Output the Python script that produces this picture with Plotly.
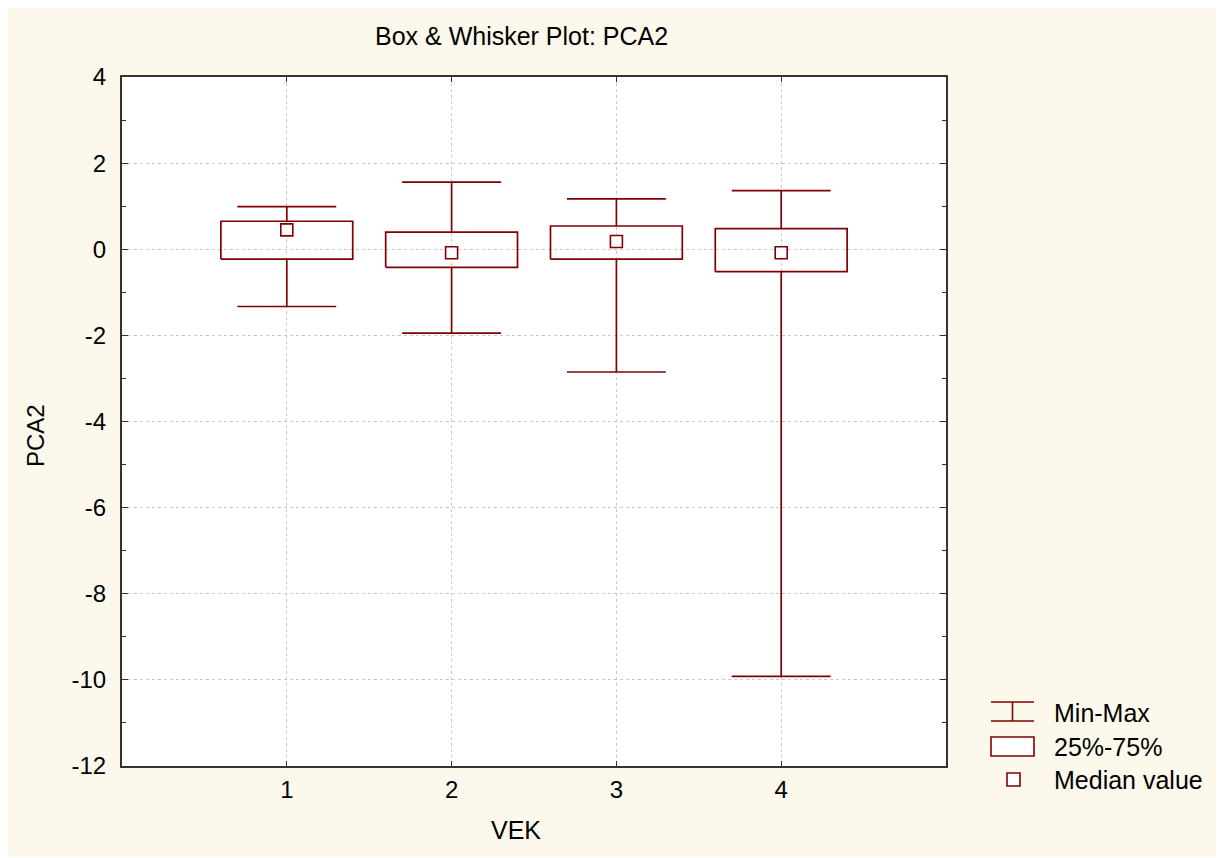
import plotly.graph_objects as go

# ---- data ----
categories = [1, 2, 3, 4]
mins    = [-1.33, -1.95, -2.85, -9.92]
q1      = [-0.23, -0.42, -0.23, -0.52]
medians = [0.45, -0.08, 0.18, -0.08]
q3      = [0.65, 0.40, 0.54, 0.48]
maxs    = [0.99, 1.56, 1.17, 1.36]
y_ticks = [4, 2, 0, -2, -4, -6, -8, -10, -12]
x_tick_labels = ["1", "2", "3", "4"]

RED = "#800000"
BEIGE = "#FDF8EC"
FONT = "Liberation Sans, Arial, sans-serif"

OFF = 8  # page body margin
W, H = 1229 - OFF, 858 - OFF
# plot area in page pixel coordinates
L, R, T, B = 122, 946, 77, 766
PW, PH = R - L, B - T

def px(x):
    return (x - L) / PW

def py(y):
    return (B - y) / PH

box_half = 0.40
cap_half = 0.30

# whiskers
wx, wy = [], []
for c, lo, a, b, hi in zip(categories, mins, q1, q3, maxs):
    wx += [c, c, None, c, c, None, c - cap_half, c + cap_half, None, c - cap_half, c + cap_half, None]
    wy += [lo, a, None, b, hi, None, lo, lo, None, hi, hi, None]

# boxes
bx, by = [], []
for c, a, b in zip(categories, q1, q3):
    bx += [c - box_half, c + box_half, c + box_half, c - box_half, c - box_half, None]
    by += [a, a, b, b, a, None]

fig = go.Figure()
fig.add_trace(go.Scatter(x=wx, y=wy, mode="lines", line=dict(color=RED, width=1.7),
                         hoverinfo="skip", showlegend=False))
fig.add_trace(go.Scatter(x=bx, y=by, mode="lines", line=dict(color=RED, width=1.7),
                         hoverinfo="skip", showlegend=False))
fig.add_trace(go.Scatter(x=categories, y=medians, mode="markers",
                         marker=dict(symbol="square", size=12, color="white",
                                     line=dict(color=RED, width=1.6)),
                         showlegend=False))

shapes = [
    dict(type="rect", xref="paper", yref="paper", x0=px(6), x1=px(1216), y0=py(857), y1=py(7),
         fillcolor=BEIGE, line=dict(width=0), layer="below"),
    dict(type="rect", xref="paper", yref="paper", x0=0, x1=1, y0=0, y1=1,
         fillcolor="white", line=dict(width=0), layer="below"),
]
# custom legend symbols
lc = dict(color=RED, width=1.6)
shapes += [
    dict(type="line", xref="paper", yref="paper", x0=px(991), x1=px(1034), y0=py(702), y1=py(702), line=lc),
    dict(type="line", xref="paper", yref="paper", x0=px(991), x1=px(1034), y0=py(721), y1=py(721), line=lc),
    dict(type="line", xref="paper", yref="paper", x0=px(1012.5), x1=px(1012.5), y0=py(702), y1=py(721), line=lc),
    dict(type="rect", xref="paper", yref="paper", x0=px(991), x1=px(1034), y0=py(756), y1=py(737),
         line=lc, fillcolor="white"),
    dict(type="rect", xref="paper", yref="paper", x0=px(1007), x1=px(1020), y0=py(786), y1=py(773),
         line=lc, fillcolor="white"),
]

annotations = [
    dict(text="Box & Whisker Plot: PCA2", xref="paper", yref="paper", x=px(521), y=py(36),
         xanchor="center", yanchor="middle", showarrow=False, font=dict(size=25, color="black")),
    dict(text="VEK", xref="paper", yref="paper", x=px(516), y=py(830),
         xanchor="center", yanchor="middle", showarrow=False, font=dict(size=25, color="black")),
    dict(text="PCA2", xref="paper", yref="paper", x=px(35), y=py(436), textangle=-90,
         xanchor="center", yanchor="middle", showarrow=False, font=dict(size=24, color="black")),
]
for label, yc in [("Min-Max", 713), ("25%-75%", 747), ("Median value", 780)]:
    annotations.append(dict(text=label, xref="paper", yref="paper", x=px(1052), y=py(yc),
                            xanchor="left", yanchor="middle", showarrow=False,
                            font=dict(size=25, color="black")))

fig.update_layout(
    width=W, height=H,
    margin=dict(l=L - OFF, r=(W + OFF) - R, t=T - OFF, b=(H + OFF) - B, pad=0),
    paper_bgcolor="white",
    plot_bgcolor="white",
    font=dict(family=FONT, size=24, color="black"),
    shapes=shapes,
    annotations=annotations,
    showlegend=False,
)
fig.update_xaxes(
    range=[0, 5], tickmode="array", tickvals=categories, ticktext=x_tick_labels,
    ticks="inside", ticklen=5, tickcolor="#333", tickwidth=1,
    showline=True, linecolor="#333", linewidth=2, mirror="allticks",
    showgrid=True, gridcolor="#c8c8c8", griddash="dot", gridwidth=1,
    zeroline=False, ticklabelstandoff=1,
)
fig.update_yaxes(
    range=[-12, 4], tickmode="array", tickvals=y_ticks, ticktext=[str(v) for v in y_ticks],
    ticks="inside", ticklen=6, tickcolor="#333", tickwidth=1,
    minor=dict(dtick=1, ticks="inside", ticklen=4, tickcolor="#333", showgrid=False),
    showline=True, linecolor="#333", linewidth=2, mirror="allticks",
    showgrid=True, gridcolor="#c8c8c8", griddash="dot", gridwidth=1,
    zeroline=False, ticklabelstandoff=9,
)

fig.write_html("out.html")
